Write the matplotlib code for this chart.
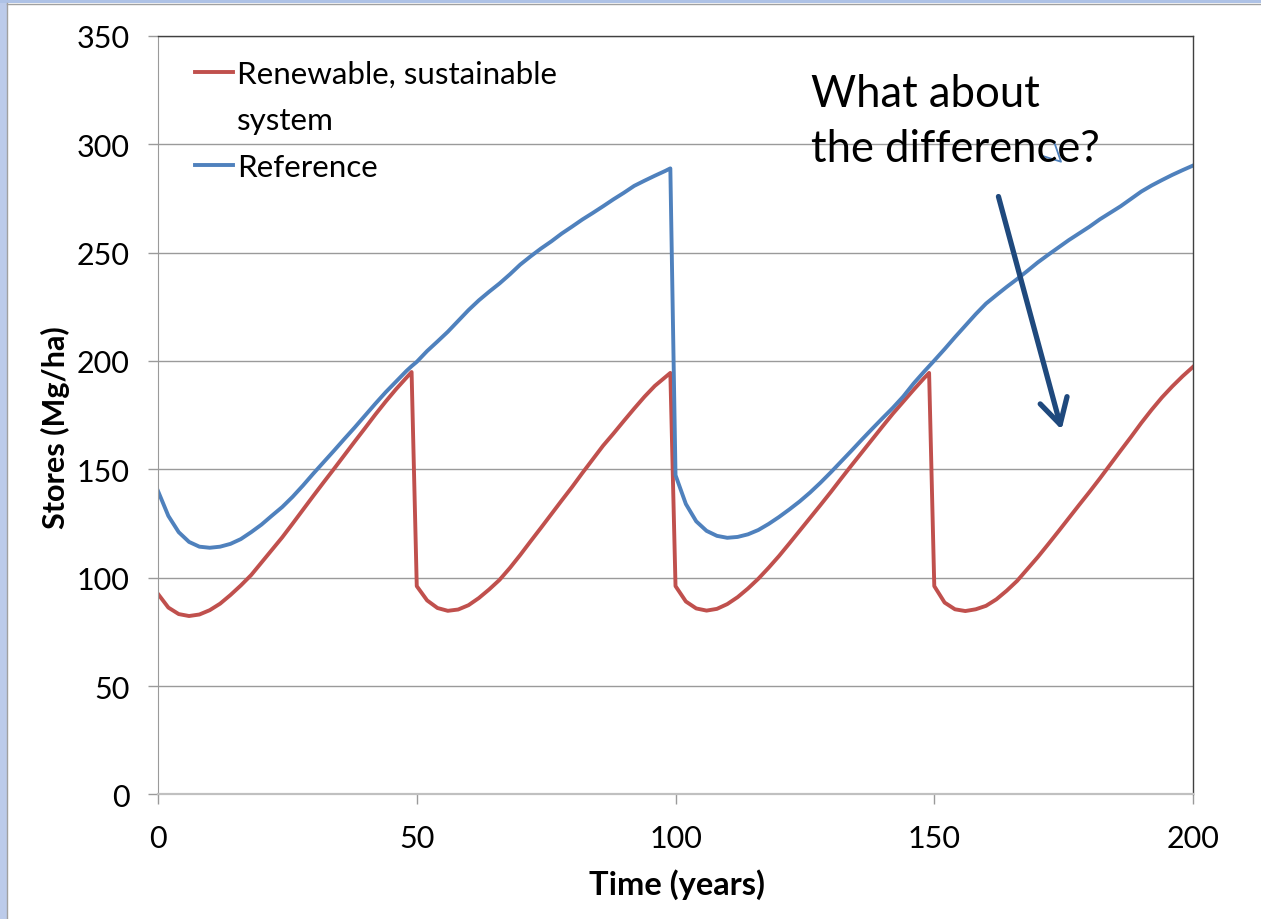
import numpy as np
import matplotlib
matplotlib.use('Agg')
import matplotlib.pyplot as plt
from matplotlib.lines import Line2D
from matplotlib.patches import Rectangle

# Years sampled (every 2 years plus the year before each harvest)
years = sorted(list(range(0, 201, 2)) + [49, 99, 149])

# Stores (Mg/ha)
renewable = [
    92.5, 86.2, 83.2, 82.3, 83.0, 85.0, 88.0, 92.0, 96.4, 101.2, 107.0, 112.8, 118.6,
    124.9, 131.3, 137.7, 144.0, 150.2, 156.5, 162.8, 169.0, 175.3, 181.3, 187.0, 192.3,
    194.9,
    96.1, 89.5, 86.0, 84.7, 85.3, 87.3, 90.6, 94.6, 99.0, 104.5, 110.5, 116.8, 123.0,
    129.3, 135.6, 141.8, 148.3, 154.6, 160.9, 166.5, 172.3, 178.0, 183.5, 188.5, 192.5,
    194.5,
    96.1, 89.0, 85.8, 84.8, 85.6, 87.8, 91.0, 95.0, 99.5, 104.6, 110.0, 115.8, 121.7,
    127.6, 133.5, 139.5, 145.7, 151.8, 157.8, 163.8, 169.8, 175.7, 181.2, 186.7, 192.0,
    194.5,
    96.1, 88.5, 85.4, 84.6, 85.4, 87.0, 90.0, 94.0, 98.5, 104.0, 109.5, 115.4, 121.4,
    127.5, 133.6, 139.6, 145.8, 152.2, 158.6, 164.9, 171.4, 177.5, 183.2, 188.3, 193.0,
    197.3,
]
reference = [
    140.0, 128.5, 121.0, 116.5, 114.3, 113.8, 114.3, 115.6, 117.8, 121.0, 124.5, 128.6,
    132.6, 137.3, 142.5, 148.0, 153.3, 158.6, 164.0, 169.3, 174.8, 180.3, 185.6, 190.5,
    195.4,
    197.6,
    199.6, 204.6, 209.0, 213.5, 218.5, 223.5, 228.0, 232.0, 235.8, 240.0, 244.5, 248.3,
    251.9, 255.2, 258.8, 262.0, 265.3, 268.3, 271.4, 274.6, 277.6, 280.8, 283.2, 285.5,
    287.7,
    288.9,
    147.3, 134.0, 126.0, 121.6, 119.3, 118.4, 118.8, 120.0, 122.0, 124.8, 128.0, 131.5,
    135.2, 139.3, 143.8, 148.6, 153.6, 158.6, 163.7, 168.7, 173.6, 178.4, 183.6, 189.6,
    195.0,
    197.6,
    200.2, 205.5, 211.0, 216.3, 221.6, 226.5, 230.4, 234.2, 237.8, 241.6, 245.5, 249.0,
    252.4, 255.8, 258.9, 262.0, 265.4, 268.4, 271.4, 274.8, 278.2, 281.0, 283.5, 285.9,
    288.1, 290.2,
]

plt.rcParams['font.family'] = ['Lato', 'DejaVu Sans']

fig = plt.figure(figsize=(12.61, 9.2), dpi=100)
ax = fig.add_axes([0.1253, 0.1355, 0.8208, 0.8243])

red = '#c0504d'
blue = '#4f81bd'
ax.plot(years, renewable, color=red, lw=2.8)
ax.plot(years, reference, color=blue, lw=2.8)

ax.set_xlim(0, 200)
ax.set_ylim(0, 350)
ax.set_xticks(np.arange(0, 201, 50))
ax.set_yticks(np.arange(0, 351, 50))
ax.yaxis.grid(True, color='#9a9a9a', lw=1)
ax.set_axisbelow(True)
ax.tick_params(direction='out', length=7.5, width=1, labelsize=22)
ax.tick_params(axis='y', pad=13, colors='#9a9a9a', labelcolor='black')
ax.tick_params(axis='x', pad=14, colors='#9a9a9a', labelcolor='black')
for s in ['top', 'right']:
    ax.spines[s].set_color('#404040')
    ax.spines[s].set_linewidth(1)
ax.spines['left'].set_color('#9a9a9a')
ax.spines['bottom'].set_color('#c0c0c0')
ax.spines['bottom'].set_linewidth(1.6)

ax.set_xlabel('Time (years)', fontsize=23.5, fontweight='bold')
ax.set_ylabel('Stores (Mg/ha)', fontsize=22, fontweight='bold')
ax.xaxis.set_label_coords(0.5015, -0.097)
ax.yaxis.set_label_coords(-0.085, 0.485)

# legend: the long label wraps, handle sits on first line
handles = [Line2D([], [], color=red, lw=2.8), Line2D([], [], color='none'),
           Line2D([], [], color=blue, lw=2.8)]
labels = ['Renewable, sustainable', 'system', 'Reference']
ax.legend(handles, labels, loc='upper left', bbox_to_anchor=(0.0357, 0.968),
          frameon=False, fontsize=22.6, handlelength=1.21, handletextpad=0.13,
          borderpad=0, borderaxespad=0, labelspacing=0.58)

# callout text and arrow
fig.text(811 / 1261, 1 - 106.7 / 920, 'What about', fontsize=31.4, va='baseline')
fig.text(811 / 1261, 1 - 161.7 / 920, 'the difference?', fontsize=31.4, va='baseline')
ax.annotate('', xy=(174.6, 168.3), xytext=(162.4, 275.9),
            arrowprops=dict(arrowstyle='->,head_length=0.9,head_width=0.5',
                            lw=3.8, color='#1f497d', mutation_scale=20,
                            shrinkA=0, shrinkB=0))
# small stray mark near the question
fig.add_artist(Line2D([1041.7 / 1261, 1061.0 / 1261, 1054.5 / 1261],
                      [1 - 156.7 / 920, 1 - 162.7 / 920, 1 - 144.0 / 920],
                      color=blue, lw=1.3))

# slide border
fig.add_artist(Rectangle((0, 0), 6.5 / 1261, 1, transform=fig.transFigure,
                         color='#bccbea', lw=0))
fig.add_artist(Rectangle((0, 1 - 3.5 / 920), 1, 3.5 / 920, transform=fig.transFigure,
                         color='#aec2e6', lw=0))
fig.add_artist(Line2D([7 / 1261, 7 / 1261], [0, 1 - 4 / 920], color='#a0a0a0', lw=1))
fig.add_artist(Line2D([7 / 1261, 1], [1 - 4.5 / 920, 1 - 4.5 / 920], color='#a0a0a0', lw=1))

plt.savefig('out.png', dpi=100)
